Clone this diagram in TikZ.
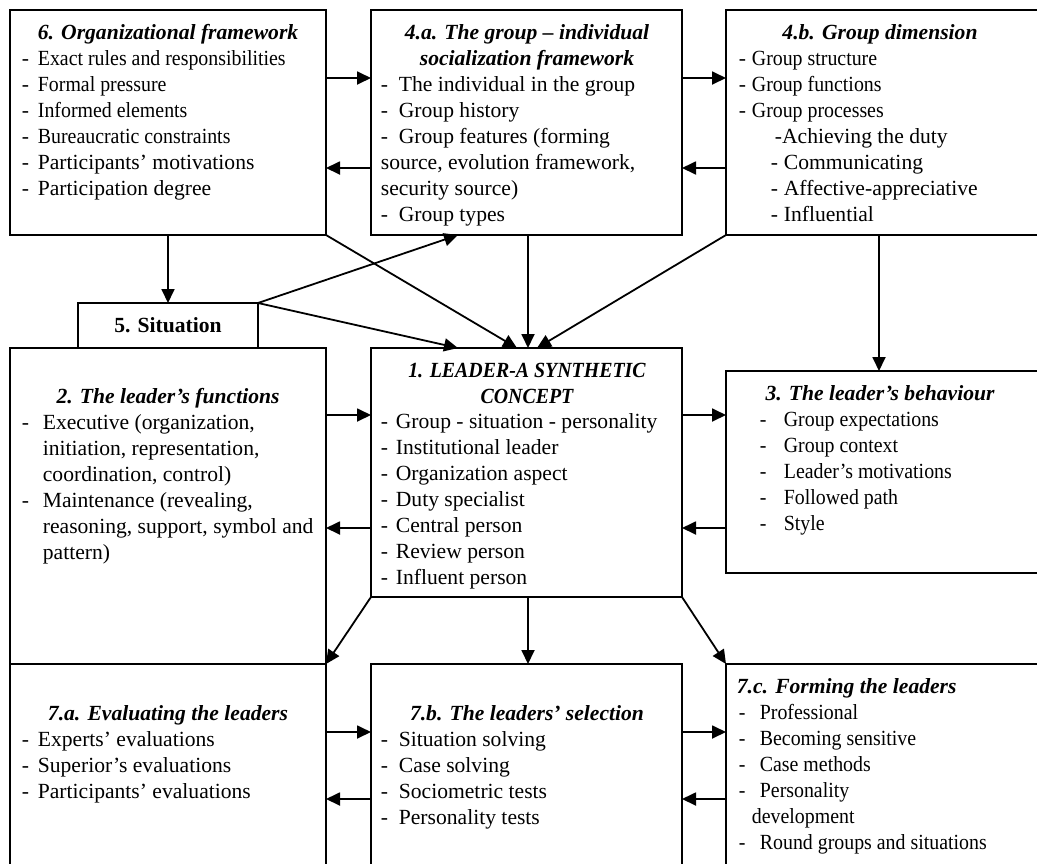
\documentclass[tikz,border=0pt]{standalone}
\usepackage{fontspec}
\setmainfont{Liberation Serif}
\newfontfamily\condfont[FakeStretch=0.92]{Liberation Serif}
\usetikzlibrary{arrows.meta}
\newcommand{\basefont}{\fontsize{21.6pt}{26pt}\selectfont}
\newcommand{\dsh}[1]{\makebox[#1][l]{-}}

\begin{document}
\begin{tikzpicture}[x=1pt,y=-1pt,->,>={Triangle[length=14pt,width=13pt]},line width=1.8pt,
  box node/.style={draw,rectangle,anchor=north west,inner sep=0pt,outer sep=0pt},
  title node/.style={font=\basefont\bfseries\itshape,align=center,anchor=base,inner sep=0pt},
  body node/.style={font=\basefont,align=left,anchor=base west,inner sep=0pt}]
\useasboundingbox (0,0) rectangle (1037,863);
\clip (0,0) rectangle (1037,863);

% frames
\node[box node,minimum width=316pt,minimum height=225pt] (org) at (10,10) {};
\node[box node,minimum width=311pt,minimum height=225pt] (grp) at (371,10) {};
\node[box node,minimum width=320pt,minimum height=225pt] (dim) at (726,10) {};
\node[box node,minimum width=180pt,minimum height=45pt] (sit) at (78,303) {};
\node[box node,minimum width=316pt,minimum height=316pt] (fun) at (10,348) {};
\node[box node,minimum width=311pt,minimum height=249pt] (lead) at (371,348) {};
\node[box node,minimum width=320pt,minimum height=202pt] (beh) at (726,371) {};
\node[box node,minimum width=316pt,minimum height=220pt] (eval) at (10,664) {};
\node[box node,minimum width=311pt,minimum height=220pt] (sel) at (371,664) {};
\node[box node,minimum width=320pt,minimum height=220pt] (form) at (726,664) {};

% texts (multi-line nodes sit on their last baseline)
\node[title node] (org-t) at (168,39) {6. Organizational framework};
\node[body node] (org-b) at (21,195) {\dsh{16pt}{\condfont Exact rules and responsibilities}\\
  \dsh{16pt}{\condfont Formal pressure}\\ \dsh{16pt}{\condfont Informed elements}\\
  \dsh{16pt}{\condfont Bureaucratic constraints}\\ \dsh{16pt}Participants’ motivations\\
  \dsh{16pt}Participation degree};

\node[title node] (grp-t) at (527,65) {4.a. The group – individual\\socialization framework};
\node[body node] (grp-b) at (380,221) {\dsh{18pt}The individual in the group\\
  \dsh{18pt}Group history\\ \dsh{18pt}Group features (forming\\
  source, evolution framework,\\ security source)\\ \dsh{18pt}Group types};

\node[title node] (dim-t) at (880,39) {4.b. Group dimension};
\node[body node] (dim-b) at (738,221) {\dsh{13pt}{\condfont Group structure}\\
  \dsh{13pt}{\condfont Group functions}\\ \dsh{13pt}{\condfont Group processes}\\
  \hspace*{36pt}-Achieving the duty\\ \hspace*{32pt}\dsh{13pt}Communicating\\
  \hspace*{32pt}\dsh{13pt}Affective-appreciative\\ \hspace*{32pt}\dsh{13pt}Influential};

\node[title node,font=\basefont\bfseries] (sit-t) at (168,332) {5. Situation};

\node[title node] (fun-t) at (168,403) {2. The leader’s functions};
\node[body node] (fun-b) at (21,559) {\dsh{21pt}Executive (organization,\\
  \hspace*{21pt}initiation, representation,\\ \hspace*{21pt}coordination, control)\\
  \dsh{21pt}Maintenance (revealing,\\ \hspace*{21pt}reasoning, support, symbol and\\
  \hspace*{21pt}pattern)};

\node[title node,font=\basefont\condfont\bfseries\itshape] (lead-t) at (527,403)
  {1. LEADER-A SYNTHETIC\\CONCEPT};
\node[body node] (lead-b) at (380,584) {\dsh{15pt}Group - situation - personality\\
  \dsh{15pt}Institutional leader\\ \dsh{15pt}Organization aspect\\
  \dsh{15pt}Duty specialist\\ \dsh{15pt}Central person\\ \dsh{15pt}Review person\\
  \dsh{15pt}Influent person};

\node[title node] (beh-t) at (880,400) {3. The leader’s behaviour};
\node[body node,font=\basefont\condfont] (beh-b) at (759,530) {\dsh{24pt}Group expectations\\
  \dsh{24pt}Group context\\ \dsh{24pt}Leader’s motivations\\ \dsh{24pt}Followed path\\
  \dsh{24pt}Style};

\node[title node] (eval-t) at (168,720) {7.a. Evaluating the leaders};
\node[body node] (eval-b) at (21,798) {\dsh{16pt}Experts’ evaluations\\
  \dsh{16pt}Superior’s evaluations\\ \dsh{16pt}Participants’ evaluations};

\node[title node] (sel-t) at (527,720) {7.b. The leaders’ selection};
\node[body node] (sel-b) at (380,824) {\dsh{18pt}Situation solving\\
  \dsh{18pt}Case solving\\ \dsh{18pt}Sociometric tests\\ \dsh{18pt}Personality tests};

\node[title node,anchor=base west] (form-t) at (736,693) {7.c. Forming the leaders};
\node[body node,font=\basefont\condfont] (form-b) at (738,849) {\dsh{21pt}Professional\\
  \dsh{21pt}Becoming sensitive\\ \dsh{21pt}Case methods\\ \dsh{21pt}Personality\\
  \hspace*{13pt}development\\ \dsh{21pt}Round groups and situations};

% connectors
\path (org.east |- 0,78) edge (grp.west |- 0,78);
\path (grp.west |- 0,168) edge (org.east |- 0,168);
\path (grp.east |- 0,78) edge (dim.west |- 0,78);
\path (dim.west |- 0,168) edge (grp.east |- 0,168);
\path (org.south -| 168,0) edge (sit.north -| 168,0);
\path (org.south east) edge (lead.north -| 517,0);
\path (grp.south -| 528,0) edge (lead.north -| 528,0);
\path (dim.south west) edge (lead.north -| 537,0);
\path (sit.north east) edge (grp.south -| 458,0);
\path (sit.north east) edge (lead.north -| 458,0);
\path (dim.south -| 879,0) edge (beh.north -| 879,0);
\path (fun.east |- 0,415) edge (lead.west |- 0,415);
\path (lead.west |- 0,528) edge (fun.east |- 0,528);
\path (lead.east |- 0,415) edge (beh.west |- 0,415);
\path (beh.west |- 0,528) edge (lead.east |- 0,528);
\path (lead.south west) edge (eval.north east);
\path (lead.south -| 528,0) edge (sel.north -| 528,0);
\path (lead.south east) edge (form.north west);
\path (eval.east |- 0,732) edge (sel.west |- 0,732);
\path (sel.west |- 0,799) edge (eval.east |- 0,799);
\path (sel.east |- 0,732) edge (form.west |- 0,732);
\path (form.west |- 0,799) edge (sel.east |- 0,799);

\end{tikzpicture}
\end{document}
